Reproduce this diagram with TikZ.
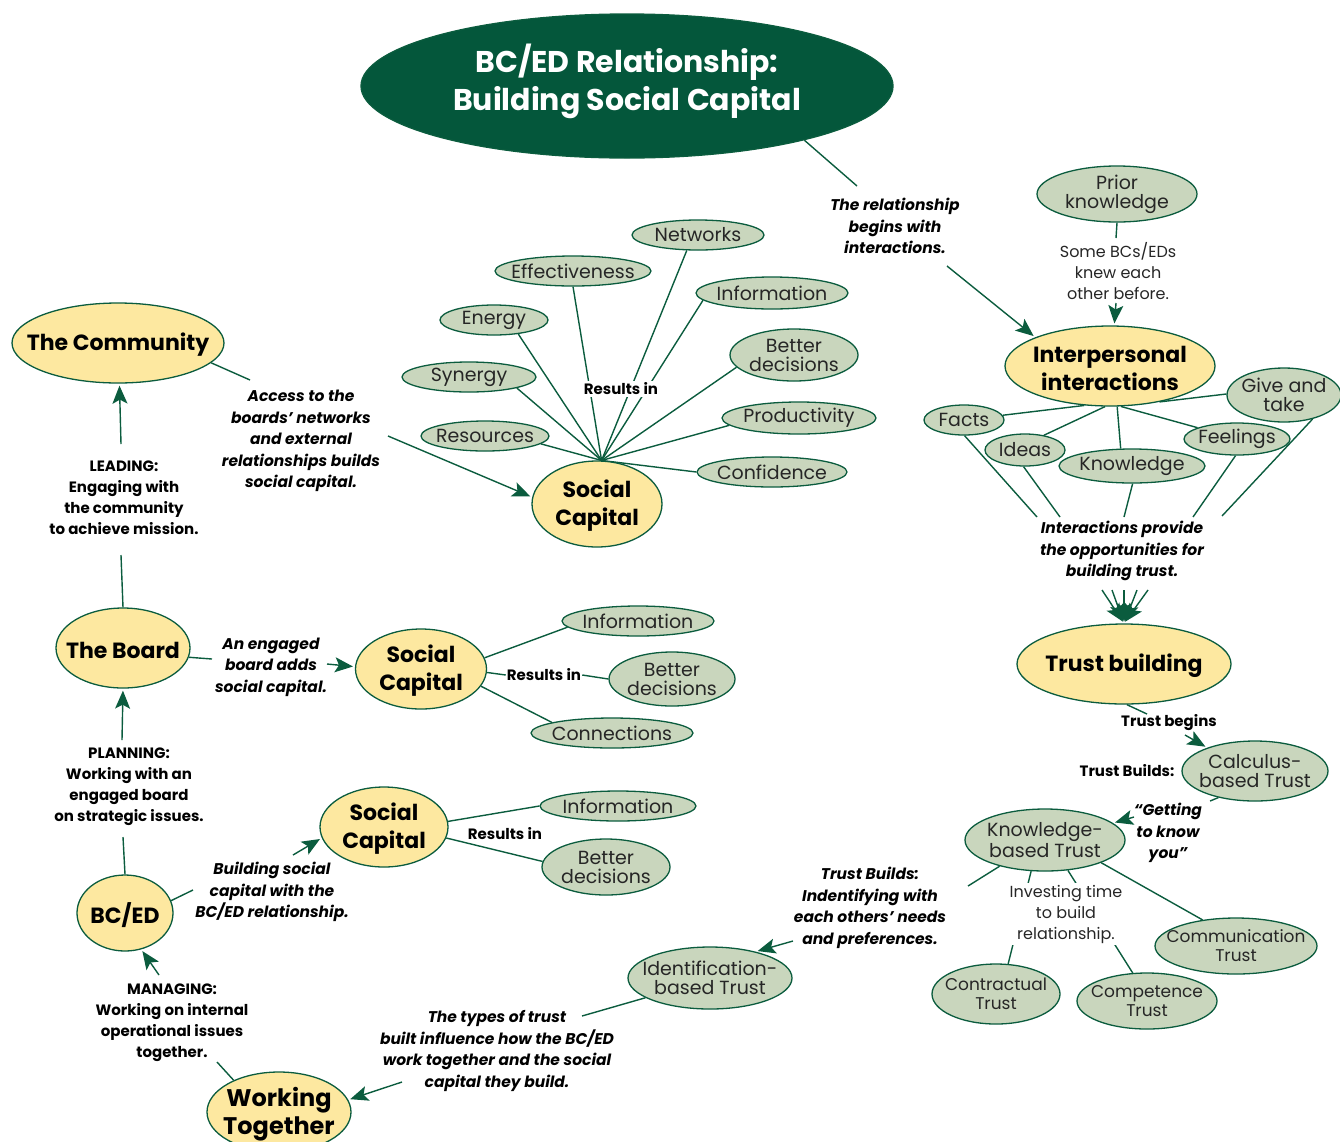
\documentclass[tikz,border=0pt]{standalone}
\usepackage{fontspec}
\setmainfont{Poppins}
\usetikzlibrary{shapes.geometric,arrows.meta,calc}
\definecolor{dg}{HTML}{0B5C3E}
\definecolor{tfill}{HTML}{04573B}
\definecolor{yel}{HTML}{FDE8A0}
\definecolor{sage}{HTML}{C9D6BD}
\pgfdeclarelayer{bg}
\pgfsetlayers{bg,main}
\begin{document}
\begin{tikzpicture}[x=1pt,y=-1pt,
 ell/.style={ellipse, draw=dg, line width=1.3pt, inner sep=0pt},
 leaf/.style={ell, fill=sage},
 mainn/.style={ell, fill=yel},
 lt/.style={font=\fontsize{19}{19}\selectfont, align=center, text=black!85},
 lts/.style={font=\fontsize{17}{19}\selectfont, align=center, text=black!85},
 mt/.style={font=\bfseries\fontsize{22}{28}\selectfont, align=center, yshift=-2pt},
 bi/.style={font=\bfseries\itshape\fontsize{15.5}{21.5}\selectfont, align=center, inner sep=1pt},
 bu/.style={font=\bfseries\fontsize{15}{21}\selectfont, align=center, inner sep=1pt},
 rg/.style={font=\fontsize{16}{21}\selectfont, align=center, inner sep=1pt, text=black!85},
 ln/.style={draw=dg, line width=1.4pt},
 arr/.style={ln, -{Stealth[length=18pt, width=15pt, inset=4pt]}, shorten >=2pt},
]
\useasboundingbox (0,0) rectangle (1340,1141);

% title
\node[ell, fill=tfill, minimum width=532pt, minimum height=144pt,
  label={[font=\bfseries\fontsize{30}{38}\selectfont, text=white, align=center, yshift=5pt]center:{BC/ED Relationship:\\Building Social Capital}}] (title) at (627,86) {};

% main (yellow) nodes
\node[mainn, minimum width=210pt, minimum height=80pt, label={[mt]center:{Interpersonal\\interactions}}] (inter) at (1110,366) {};
\node[mainn, minimum width=214pt, minimum height=80pt, label={[mt]center:{Trust building}}] (trust) at (1124,664) {};
\node[mainn, minimum width=130pt, minimum height=86pt, label={[mt]center:{Social\\Capital}}] (sc1) at (597,504) {};
\node[mainn, minimum width=131pt, minimum height=80pt, label={[mt]center:{Social\\Capital}}] (sc2) at (421,669) {};
\node[mainn, minimum width=128pt, minimum height=80pt, label={[mt]center:{Social\\Capital}}] (sc3) at (384,827) {};
\node[mainn, minimum width=212pt, minimum height=80pt, label={[mt]center:{The Community}}] (comm) at (118,343) {};
\node[mainn, minimum width=134pt, minimum height=80pt, label={[mt]center:{The Board}}] (board) at (123,648) {};
\node[mainn, minimum width=96pt, minimum height=76pt, label={[mt]center:{BC/ED}}] (bced) at (125,913) {};
\node[mainn, minimum width=144pt, minimum height=80pt, label={[mt, font=\bfseries\fontsize{24}{28}\selectfont]center:{Working\\Together}}] (wt) at (279,1112) {};

% leaves, right cluster
\node[leaf, minimum width=160pt, minimum height=56pt, label={[lt]center:{Prior\\knowledge}}] (prior) at (1117,194) {};
\node[leaf, minimum width=114pt, minimum height=54pt, label={[lt]center:{Give and\\take}}] (give) at (1284,395) {};
\node[leaf, minimum width=80pt, minimum height=30pt, label={[lt]center:{Facts}}] (facts) at (964,420) {};
\node[leaf, minimum width=80pt, minimum height=32pt, label={[lt]center:{Ideas}}] (ideas) at (1025,450) {};
\node[leaf, minimum width=146pt, minimum height=34pt, label={[lt]center:{Knowledge}}] (know) at (1132,466) {};
\node[leaf, minimum width=106pt, minimum height=32pt, label={[lt]center:{Feelings}}] (feel) at (1237,439) {};
\node[leaf, minimum width=146pt, minimum height=60pt, label={[lt]center:{Calculus-\\based Trust}}] (calc) at (1255,771) {};
\node[leaf, minimum width=160pt, minimum height=62pt, label={[lt]center:{Knowledge-\\based Trust}}] (kb) at (1045,840) {};
\node[leaf, minimum width=164pt, minimum height=62pt, label={[lt]center:{Identification-\\based Trust}}] (ident) at (710,978) {};
\node[leaf, minimum width=128pt, minimum height=60pt, label={[lts]center:{Contractual\\Trust}}] (contr) at (996,994) {};
\node[leaf, minimum width=140pt, minimum height=56pt, label={[lts]center:{Competence\\Trust}}] (comp) at (1147,1001) {};
\node[leaf, minimum width=162pt, minimum height=56pt, label={[lts]center:{Communication\\Trust}}] (commu) at (1236,946) {};

% leaves, social capital 1
\node[leaf, minimum width=132pt, minimum height=30pt, label={[lt]center:{Networks}}] (net) at (698,235) {};
\node[leaf, minimum width=156pt, minimum height=30pt, label={[lt]center:{Effectiveness}}] (eff) at (573,271) {};
\node[leaf, minimum width=108pt, minimum height=30pt, label={[lt]center:{Energy}}] (energy) at (494,320) {};
\node[leaf, minimum width=134pt, minimum height=30pt, label={[lt]center:{Synergy}}] (syn) at (469,377) {};
\node[leaf, minimum width=128pt, minimum height=30pt, label={[lt]center:{Resources}}] (res) at (485,436) {};
\node[leaf, minimum width=152pt, minimum height=32pt, label={[lt]center:{Information}}] (info1) at (772,293) {};
\node[leaf, minimum width=128pt, minimum height=52pt, label={[lt]center:{Better\\decisions}}] (bd1) at (794,355) {};
\node[leaf, minimum width=154pt, minimum height=32pt, label={[lt]center:{Productivity}}] (prod) at (799,418) {};
\node[leaf, minimum width=150pt, minimum height=30pt, label={[lt]center:{Confidence}}] (conf) at (772,472) {};

% leaves, social capital 2 and 3
\node[leaf, minimum width=152pt, minimum height=30pt, label={[lt]center:{Information}}] (info2) at (638,621) {};
\node[leaf, minimum width=126pt, minimum height=54pt, label={[lt]center:{Better\\decisions}}] (bd2) at (672,679) {};
\node[leaf, minimum width=162pt, minimum height=30pt, label={[lt]center:{Connections}}] (conn) at (612,733) {};
\node[leaf, minimum width=156pt, minimum height=30pt, label={[lt]center:{Information}}] (info3) at (618,806) {};
\node[leaf, minimum width=128pt, minimum height=56pt, label={[lt]center:{Better\\decisions}}] (bd3) at (606,867) {};

% text labels
\node[bi] (lRel) at (895,226) {The relationship\\begins with\\interactions.};
\node[rg] (lSome) at (1118,271) {Some BCs/EDs\\knew each\\other before.};
\node[bi] (lInt) at (1122,551) {Interactions provide\\the opportunities for\\building trust.};
\node[bu] (lTB) at (1169,723) {Trust begins};
\node[bu] (lTBu) at (1127,771) {Trust Builds:};
\node[bi] (lGet) at (1168,833) {“Getting\\to know\\you”};
\node[bi] (lIdent) at (870,908) {Trust Builds:\\Indentifying with\\each others’ needs\\and preferences.};
\node[bi] (lTypes) at (497,1051) {The types of trust\\built influence how the BC/ED\\work together and the social\\capital they build.};
\node[bi] (lAccess) at (301,441) {Access to the\\boards’ networks\\and external\\relationships builds\\social capital.};
\node[bu] (lLead) at (124,498) {LEADING:\\Engaging with\\the community\\to achieve mission.};
\node[bi] (lEng) at (271,667) {An engaged\\board adds\\social capital.};
\node[bu] (lR2) at (544,675) {Results in};
\node[bu] (lPlan) at (129,787) {PLANNING:\\Working with an\\engaged board\\on strategic issues.};
\node[bi] (lBuild) at (272,892) {Building social\\capital with the\\BC/ED relationship.};
\node[bu] (lR3) at (505,834) {Results in};
\node[bu] (lMan) at (172,1023) {MANAGING:\\Working on internal\\operational issues\\together.};
\node[bu, fill=white, inner sep=2pt] (lR1) at (621,389) {Results in};
\node[rg, fill=white, inner sep=2pt] (lInv) at (1066,914) {Investing time\\to build\\relationship.};

\begin{pgfonlayer}{bg}
% title to interactions
\draw[ln] (title.-17) -- ($(lRel)+(-38,-40)$);
\draw[arr] ($(lRel)+(52,40)$) -- (inter.159);
% prior knowledge
\draw[ln] (prior.south) -- ($(lSome)+(-2,-33)$);
\draw[arr] ($(lSome)+(-2,32)$) -- (inter.84);
% interactions to leaves
\draw[ln] (inter.237) -- (facts.7);
\draw[ln] (inter.-97) -- (ideas.38);
\draw[ln] (inter.-80) -- (know.123);
\draw[ln] (inter.-75) -- (feel.164);
\draw[ln] (inter.-36) -- (give.179);
% leaves to label
\draw[ln] (facts.-88) -- ($(lInt)+(-85,-34)$);
\draw[ln] (ideas.-95) -- ($(lInt)+(-62,-34)$);
\draw[ln] (know.-88) -- ($(lInt)+(2,-34)$);
\draw[ln] (feel.-95) -- ($(lInt)+(71,-34)$);
\draw[ln] (give.-40) -- ($(lInt)+(100,-35)$);
% converging arrows
\draw[arr] ($(lInt)+(-20,39)$) -- (trust.north);
\draw[arr] ($(lInt)+(-10,39)$) -- (trust.north);
\draw[arr] ($(lInt)+(2,39)$) -- (trust.north);
\draw[arr] ($(lInt)+(15,39)$) -- (trust.north);
\draw[arr] ($(lInt)+(26,39)$) -- (trust.north);
% trust chain
\draw[ln] (trust.-86) -- ($(lTB)+(-22,-9)$);
\draw[arr] ($(lTB)+(16,12)$) -- (calc.154);
\draw[ln] (calc.-144) -- ($(lGet)+(42,-32)$);
\draw[arr] ($(lGet)+(-34,-16)$) -- (kb.14);
\draw[ln] (kb.-150) -- ($(lIdent)+(98,-22)$);
\draw[arr] ($(lIdent)+(-77,33)$) -- (ident.30);
\draw[ln] (kb.-114.6) -- (contr.68);
\draw[ln] (kb.-53.6) -- (comp.117);
\draw[ln] (kb.-22) -- (commu.142);
\draw[ln] (ident.-163) -- ($(lTypes)+(85,-35)$);
\draw[arr] ($(lTypes)+(-95,31)$) -- (wt.10);
% social capital 1 spokes
\coordinate (hub) at (sc1.84);
\draw[ln] (net.-126) -- (hub);
\draw[ln] (eff.south) -- (hub);
\draw[ln] (energy.-30) -- (hub);
\draw[ln] (syn.-13) -- (hub);
\draw[ln] (res.-8) -- (hub);
\draw[ln] (info1.186) -- (hub);
\draw[ln] (bd1.192) -- (hub);
\draw[ln] (prod.186) -- (hub);
\draw[ln] (conf.west) -- (hub);
% community
\draw[ln] (comm.-12) -- ($(lAccess)+(-51,-61)$);
\draw[arr] ($(lAccess)+(87,-5)$) -- (sc1.174);
\draw[arr] ($(lLead)+(-3,-54)$) -- (comm.-88);
\draw[ln] (board.north) -- ($(lLead)+(-3,57)$);
% board
\draw[ln] (board.-8) -- ($(lEng)+(-59,-8)$);
\draw[arr] ($(lEng)+(56,-3)$) -- (sc2.178);
\draw[ln] (sc2.10) -- (info2.-175);
\draw[ln] (sc2.-3) -- (lR2.west);
\draw[ln] (lR2.east) -- (bd2.west);
\draw[ln] (sc2.-16) -- (conn.170);
\draw[arr] ($(lPlan)+(-7,-47)$) -- (board.south);
\draw[ln] (bced.north) -- ($(lPlan)+(-6,50)$);
% bc/ed
\draw[ln] (bced.15) -- ($(lBuild)+(-79,-2)$);
\draw[arr] ($(lBuild)+(21,-37)$) -- (sc3.-170);
\draw[ln] (sc3.5) -- (info3.west);
\draw[ln] (sc3.-10) -- (bd3.175);
\draw[arr] ($(lMan)+(-13,-48)$) -- (bced.-66);
\draw[ln] ($(lMan)+(45,39)$) -- (wt.145);
\end{pgfonlayer}
\end{tikzpicture}
\end{document}
